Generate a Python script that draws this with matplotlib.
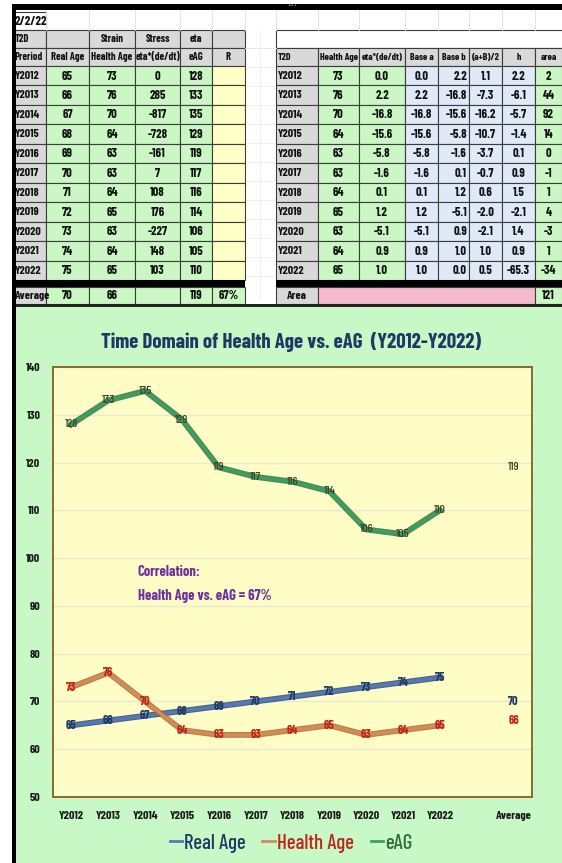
import matplotlib
matplotlib.use('Agg')
import matplotlib.pyplot as plt
from matplotlib.patches import Rectangle
from matplotlib.lines import Line2D
import matplotlib.patheffects as pe

plt.rcParams['font.family'] = ['Barlow Condensed', 'DejaVu Sans']

# ---------------- data ----------------
date_label = '2/2/22'
years = ['Y2012', 'Y2013', 'Y2014', 'Y2015', 'Y2016', 'Y2017',
         'Y2018', 'Y2019', 'Y2020', 'Y2021', 'Y2022']
real_age = [65, 66, 67, 68, 69, 70, 71, 72, 73, 74, 75]
health_age = [73, 76, 70, 64, 63, 63, 64, 65, 63, 64, 65]
stress = [0, 285, -817, -728, -161, 7, 108, 176, -227, 148, 103]
eag = [128, 133, 135, 129, 119, 117, 116, 114, 106, 105, 110]
avg_real = 70
avg_health = 66
avg_eag = 119
corr_label = '67%'

eta_dedt = [0.0, 2.2, -16.8, -15.6, -5.8, -1.6, 0.1, 1.2, -5.1, 0.9, 1.0]
base_a = [0.0, 2.2, -16.8, -15.6, -5.8, -1.6, 0.1, 1.2, -5.1, 0.9, 1.0]
base_b = [2.2, -16.8, -15.6, -5.8, -1.6, 0.1, 1.2, -5.1, 0.9, 1.0, 0.0]
ab_half = [1.1, -7.3, -16.2, -10.7, -3.7, -0.7, 0.6, -2.0, -2.1, 1.0, 0.5]
h_vals = [2.2, -6.1, -5.7, -1.4, 0.1, 0.9, 1.5, -2.1, 1.4, 0.9, -65.3]
area_vals = [2, 44, 92, 14, 0, -1, 1, 4, -3, 1, -34]
area_total = 121

left_hdr1 = ['T2D', '', 'Strain', 'Stress', 'eta', '']
left_hdr2 = ['Preriod', 'Real Age', 'Health Age', 'eta*(de/dt)', 'eAG', 'R']
right_hdr = ['T2D', 'Health Age', 'eta*(de/dt)', 'Base a', 'Base b', '(a+B)/2', 'h', 'area']

title = 'Time Domain of Health Age vs. eAG  (Y2012-Y2022)'
x_labels = years + ['', 'Average']
legend_labels = ['Real Age', 'Health Age', 'eAG']

# ---------------- style ----------------
GRAY = '#d9d9d9'
GREEN = '#cbf7c4'
YELLOW = '#ffffc6'
BLUE = '#dfe9f8'
PINK = '#f5b9cd'
EDGE = '#3c3c3c'
TSIZE = 9.0
HSIZE = 7.6

W, H = 562, 863
fig = plt.figure(figsize=(W / 100, H / 100), dpi=100)
fig.patch.set_facecolor('white')
bg = fig.add_axes([0, 0, 1, 1])
bg.set_xlim(0, W)
bg.set_ylim(H, 0)
bg.axis('off')


def cell(x0, x1, y0, y1, fc, text='', ha='center', color='#111111', size=TSIZE, edge=EDGE, lw=0.8):
    bg.add_patch(Rectangle((x0, y0), x1 - x0, y1 - y0, facecolor=fc, edgecolor=edge, lw=lw))
    if text != '':
        if ha == 'center':
            tx = (x0 + x1) / 2
        elif ha == 'left':
            tx = x0 + 1.5
        else:
            tx = x1 - 2
        bg.text(tx, (y0 + y1) / 2 + 0.3, text, ha=ha, va='center', fontsize=size,
                fontweight='bold', color=color, clip_on=True)


# faint spreadsheet grid at top
for gx in [46, 89, 135, 180, 212, 245, 276, 318, 359, 405, 438, 469, 502, 535]:
    bg.plot([gx, gx], [10, 30], color='#e4e4e4', lw=0.7)
bg.plot([245, 276], [48, 48], color='#e4e4e4', lw=0.7)
for gy in range(67, 290, 19):
    bg.plot([246, 275], [gy, gy], color='#eeeeee', lw=0.6)
bg.plot([260, 260], [30, 300], color='#eeeeee', lw=0.6)

# top black bar
bg.add_patch(Rectangle((13, 4), W - 13, 6, facecolor='black', edgecolor='none'))
bg.text(292, 5.5, '\u2022\u2022\u2022', ha='center', va='center', fontsize=4, color='#9a9a9a',
        family='DejaVu Sans')

# ---- left table ----
lcols = [13, 46, 89, 135, 180, 212, 245]
row_top = 66
row_h = (280 - 66) / 11

cell(15, 46, 12, 30, 'white', date_label)
for j in range(6):
    cell(lcols[j], lcols[j + 1], 30, 48, GRAY, left_hdr1[j], ha='left' if j == 0 else 'center',
         size=HSIZE)
    cell(lcols[j], lcols[j + 1], 48, 66, GRAY, left_hdr2[j], ha='left' if j == 0 else 'center',
         size=HSIZE)
for i in range(11):
    y0 = row_top + i * row_h
    y1 = y0 + row_h
    cell(lcols[0], lcols[1], y0, y1, GRAY, years[i], ha='left', size=8.4)
    cell(lcols[1], lcols[2], y0, y1, GREEN, str(real_age[i]))
    cell(lcols[2], lcols[3], y0, y1, GREEN, str(health_age[i]))
    cell(lcols[3], lcols[4], y0, y1, GREEN, str(stress[i]))
    cell(lcols[4], lcols[5], y0, y1, GREEN, str(eag[i]))
    cell(lcols[5], lcols[6], y0, y1, YELLOW, '')
bg.add_patch(Rectangle((13, 280), 245 - 13, 7, facecolor='black', edgecolor='none'))
cell(lcols[0], lcols[1], 287, 304, GRAY, 'Average', ha='left', size=8.4)
cell(lcols[1], lcols[2], 287, 304, GREEN, str(avg_real))
cell(lcols[2], lcols[3], 287, 304, GREEN, str(avg_health))
cell(lcols[3], lcols[4], 287, 304, GREEN, '')
cell(lcols[4], lcols[5], 287, 304, GREEN, str(avg_eag))
cell(lcols[5], lcols[6], 287, 304, GREEN, corr_label)

# ---- right table ----
rcols = [276, 318, 359, 405, 438, 469, 502, 535, 562]
bg.add_patch(Rectangle((276, 30), 300, 18, facecolor='white', edgecolor=EDGE, lw=0.8))
for j in range(8):
    cell(rcols[j], rcols[j + 1], 48, 66, GRAY, right_hdr[j], ha='left' if j == 0 else 'center',
         size=7.1)
for i in range(11):
    y0 = row_top + i * row_h
    y1 = y0 + row_h
    cell(rcols[0], rcols[1], y0, y1, GRAY, years[i], ha='left', size=8.4)
    cell(rcols[1], rcols[2], y0, y1, GREEN, str(health_age[i]))
    cell(rcols[2], rcols[3], y0, y1, GREEN, f'{eta_dedt[i]:.1f}')
    cell(rcols[3], rcols[4], y0, y1, BLUE, f'{base_a[i]:.1f}')
    cell(rcols[4], rcols[5], y0, y1, BLUE, f'{base_b[i]:.1f}', ha='right')
    cell(rcols[5], rcols[6], y0, y1, BLUE, f'{ab_half[i]:.1f}')
    cell(rcols[6], rcols[7], y0, y1, BLUE, f'{h_vals[i]:.1f}')
    cell(rcols[7], rcols[8], y0, y1, GREEN, str(area_vals[i]))
bg.add_patch(Rectangle((276, 280), 300, 7, facecolor='black', edgecolor='none'))
cell(rcols[0], rcols[1], 287, 304, GRAY, 'Area', size=8.4)
cell(rcols[1], rcols[7], 287, 304, PINK, '')
cell(rcols[7], rcols[8], 287, 304, GREEN, str(area_total))

# ---- chart panel ----
bg.add_patch(Rectangle((14, 306), W - 14, H - 306, facecolor='#c8f8c6', edgecolor='none'))
bg.add_patch(Rectangle((13, 304), W - 13, 2.5, facecolor='#222222', edgecolor='none'))
bg.add_patch(Rectangle((12, 4), 3.5, H - 4, facecolor='black', edgecolor='none'))

fig.text(291 / W, 1 - 342 / H, title, ha='center', va='center', fontsize=15,
         fontweight='bold', color='#1f3864')

ax = fig.add_axes([53 / W, 1 - 797 / H, (532 - 53) / W, (797 - 367) / H])
ax.set_facecolor('#fffdc6')
xs = list(range(len(years)))

C_REAL, C_REAL_D = '#5479b8', '#1f3a6e'
C_HEALTH, C_HEALTH_D = '#d38c55', '#a5612c'
C_EAG, C_EAG_D = '#3f9e5e', '#24683c'


def fx(dark):
    return [pe.Stroke(linewidth=4.2, foreground=dark, alpha=0.8), pe.Normal()]


ax.plot(xs, eag, color=C_EAG, lw=2.6, path_effects=fx(C_EAG_D), zorder=3)
ax.plot(xs, real_age, color=C_REAL, lw=2.6, path_effects=fx(C_REAL_D), zorder=3)
ax.plot(xs, health_age, color=C_HEALTH, lw=2.6, path_effects=fx(C_HEALTH_D), zorder=3)

LBL = 8.8
for x, v in zip(xs, eag):
    ax.text(x, v, str(v), ha='center', va='center', fontsize=LBL, color='#33442a',
            fontweight='medium', zorder=4)
for x, v in zip(xs, real_age):
    ax.text(x, v, str(v), ha='center', va='center', fontsize=LBL, color='#1f3864',
            fontweight='bold', zorder=4)
for x, v in zip(xs, health_age):
    ax.text(x, v, str(v), ha='center', va='center', fontsize=LBL, color='#c0231a',
            fontweight='bold', zorder=4)

avg_x = len(x_labels) - 1
ax.text(avg_x, avg_eag, str(avg_eag), ha='center', va='center', fontsize=LBL, color='#33442a',
        fontweight='medium')
ax.text(avg_x, avg_real, str(avg_real), ha='center', va='center', fontsize=LBL, color='#1f3864',
        fontweight='bold')
ax.text(avg_x, avg_health, str(avg_health), ha='center', va='center', fontsize=LBL, color='#c0231a',
        fontweight='bold')

ax.text(1.8, 97, 'Correlation:', ha='left', va='center', fontsize=10.5, fontweight='bold',
        color='#7030a0')
ax.text(1.8, 92, 'Health Age vs. eAG = ' + corr_label, ha='left', va='center', fontsize=10.5,
        fontweight='bold', color='#7030a0')

ax.set_xlim(-0.5, len(x_labels) - 0.5)
ax.set_ylim(50, 140)
ax.set_xticks(range(len(x_labels)))
ax.set_xticklabels(x_labels)
ax.set_yticks(range(50, 141, 10))
ax.grid(axis='y', color='#e9e6d2', lw=1.0)
ax.set_axisbelow(True)
ax.tick_params(axis='both', length=0, labelsize=8.6, colors='#1a1a1a')
ax.tick_params(axis='x', pad=10)
ax.tick_params(axis='y', pad=9)
for lab in ax.get_xticklabels() + ax.get_yticklabels():
    lab.set_fontweight('bold')
for sp in ax.spines.values():
    sp.set_color('#8a6a2e')
    sp.set_linewidth(1.4)

handles = [Line2D([0], [0], color=C_REAL, lw=2),
           Line2D([0], [0], color=C_HEALTH, lw=2),
           Line2D([0], [0], color=C_EAG, lw=2)]
leg = fig.legend(handles, legend_labels, loc='center', bbox_to_anchor=(291 / W, 1 - 843 / H),
                 ncol=3, frameon=False, fontsize=15, handlelength=0.6, handletextpad=0.1,
                 columnspacing=0.8)
for t, c in zip(leg.get_texts(), ['#1f3864', '#c0231a', '#2f6b35']):
    t.set_color(c)
    t.set_fontweight('medium')

fig.savefig('out.png', dpi=100)
